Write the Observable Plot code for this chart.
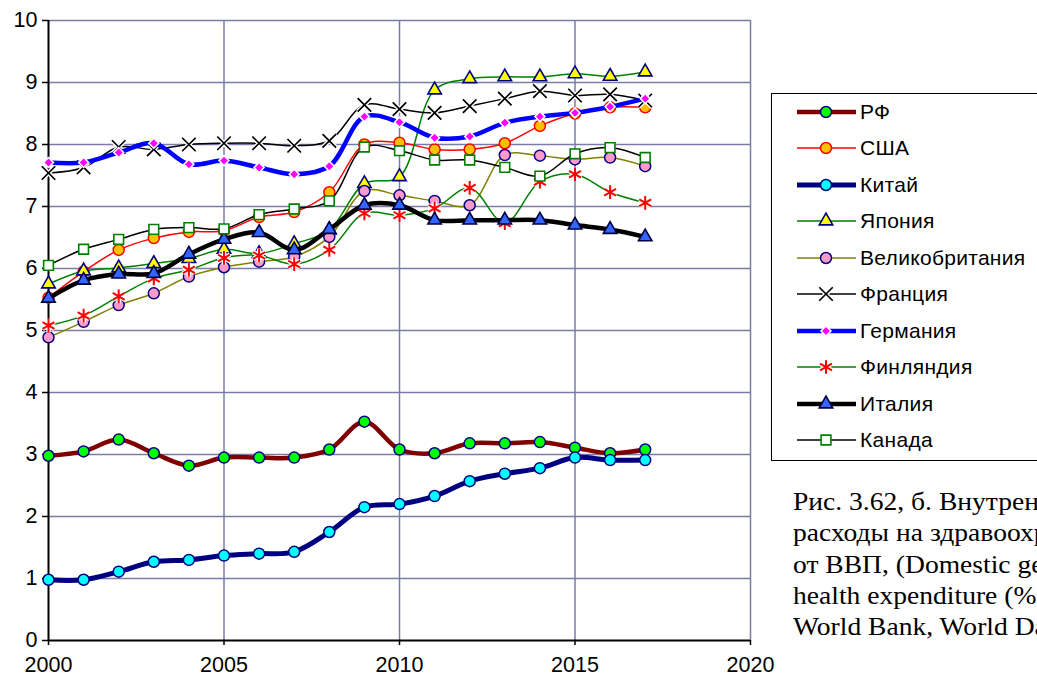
<!DOCTYPE html>
<html><head><meta charset="utf-8">
<script src="https://cdn.jsdelivr.net/npm/d3@7"></script>
<script src="https://cdn.jsdelivr.net/npm/@observablehq/plot@0.6"></script>
<style>
html,body{margin:0;padding:0;background:#fff;overflow:hidden;width:1037px;height:681px;}
#wrap{position:relative;width:1037px;height:681px;overflow:hidden;}
#chart{position:absolute;left:0;top:0;}
#legend{position:absolute;left:771px;top:93px;width:300px;height:368px;border:1px solid #000;background:#fff;box-sizing:border-box;font-family:"Liberation Sans",Arial,sans-serif;font-size:21px;letter-spacing:0.3px;color:#000;}
.item{position:absolute;left:24px;height:24px;display:flex;align-items:center;white-space:nowrap;}
.item svg{display:block;margin-right:2px;}
#caption{position:absolute;left:793px;top:486px;font-family:"Liberation Serif","Times New Roman",serif;font-size:26px;line-height:31.3px;white-space:nowrap;color:#000;transform:scaleX(1.06);transform-origin:0 0;}
</style></head>
<body><div id="wrap"><div id="chart"></div><div id="legend"></div>
<div id="caption">Рис. 3.62, б. Внутренние государственные<br>расходы на здравоохранение, %<br>от ВВП, (Domestic general government<br>health expenditure (% of GDP)),<br>World Bank, World Data Bank</div></div>
<script>
// ---- data ----
const years = [2000,2001,2002,2003,2004,2005,2006,2007,2008,2009,2010,2011,2012,2013,2014,2015,2016,2017];
const seriesNames = ["РФ","США","Китай","Япония","Великобритания","Франция","Германия","Финляндия","Италия","Канада"];
const rf      = [2.98,3.05,3.24,3.02,2.82,2.95,2.95,2.95,3.08,3.53,3.08,3.02,3.18,3.18,3.20,3.11,3.02,3.08];
const usa     = [5.53,5.95,6.30,6.49,6.59,6.61,6.83,6.91,7.23,8.00,8.03,7.92,7.92,8.02,8.30,8.50,8.60,8.60];
const china   = [0.98,0.98,1.11,1.27,1.30,1.37,1.40,1.43,1.75,2.15,2.20,2.33,2.57,2.69,2.78,2.95,2.91,2.91];
const japan   = [5.75,5.96,6.01,6.08,6.16,6.31,6.24,6.40,6.62,7.37,7.48,8.88,9.06,9.09,9.09,9.14,9.10,9.17];
const uk      = [4.89,5.14,5.41,5.60,5.87,6.02,6.11,6.19,6.51,7.25,7.18,7.09,7.02,7.83,7.82,7.76,7.79,7.65];
const france  = [7.54,7.63,7.96,7.92,8.00,8.02,8.02,7.98,8.06,8.64,8.57,8.51,8.62,8.74,8.86,8.79,8.81,8.71];
const germany = [7.71,7.71,7.87,8.02,7.68,7.74,7.63,7.52,7.65,8.45,8.36,8.11,8.13,8.35,8.45,8.51,8.61,8.74];
const finland = [5.08,5.24,5.55,5.84,5.98,6.17,6.21,6.07,6.30,6.89,6.86,6.97,7.30,6.73,7.40,7.52,7.23,7.06];
const italy   = [5.52,5.81,5.91,5.92,6.23,6.47,6.58,6.30,6.63,7.02,7.02,6.78,6.78,6.78,6.78,6.70,6.63,6.51];
const canada  = [6.05,6.31,6.47,6.63,6.66,6.64,6.87,6.96,7.09,7.96,7.90,7.75,7.75,7.63,7.49,7.85,7.95,7.79];
const xTicks = [2000,2005,2010,2015,2020];
const yTicks = [0,1,2,3,4,5,6,7,8,9,10];

// ---- styles ----
const values = [rf,usa,china,japan,uk,france,germany,finland,italy,canada];
const styles = [
  {line:"#800000", lw:4.5, sym:"circle",   r:5.5, fill:"#00ff00", stroke:"#000080", sw:1.5},
  {line:"#ff0000", lw:1.5, sym:"circle",   r:5.5, fill:"#ffc000", stroke:"#ff0000", sw:1.5},
  {line:"#000080", lw:5,   sym:"circle",   r:5.5, fill:"#00ffff", stroke:"#000080", sw:1.5},
  {line:"#008000", lw:1.5, sym:"triangle", r:5,   fill:"#ffff00", stroke:"#000080", sw:1.6},
  {line:"#808000", lw:1.5, sym:"circle",   r:5.5, fill:"#ff99cc", stroke:"#000080", sw:1.5},
  {line:"#000000", lw:1.5, sym:"times",    r:6.2, fill:"none",    stroke:"#000000", sw:1.7, halo:true},
  {line:"#0000ff", lw:4.5, sym:"diamond2", r:4.5, fill:"#ff00ff", stroke:"#ffffff", sw:1.5},
  {line:"#008000", lw:1.5, sym:"asterisk", r:6.5, fill:"none",    stroke:"#ff0000", sw:2,   halo:true},
  {line:"#000000", lw:4.5, sym:"triangle", r:5,   fill:"#3366ff", stroke:"#000040", sw:1.6},
  {line:"#000000", lw:1.5, sym:"square",   r:5.5, fill:"#ffffff", stroke:"#008000", sw:1.6}
];
const gridColor = "#7b7ba8";

const seriesMarks = [];
values.forEach((arr, k) => {
  const s = styles[k];
  const data = years.map((yr, i) => ({year: yr, value: arr[i]}));
  seriesMarks.push(Plot.line(data, {x:"year", y:"value", curve:"catmull-rom", stroke:s.line, strokeWidth:s.lw, strokeLinejoin:"round", strokeLinecap:"round"}));
  if (s.halo) seriesMarks.push(Plot.dot(data, {x:"year", y:"value", symbol:s.sym, r:s.r, stroke:"#ffffff", strokeWidth:4.5, fill:"none"}));
  seriesMarks.push(Plot.dot(data, {x:"year", y:"value", symbol:s.sym, r:s.r, fill:s.fill, stroke:s.stroke, strokeWidth:s.sw}));
});

const chart = Plot.plot({
  width: 790, height: 681,
  marginLeft: 48, marginRight: 40, marginTop: 20, marginBottom: 41,
  x: {domain:[2000,2020]},
  y: {domain:[0,10]},
  style: {fontFamily:"'Liberation Sans', Arial, sans-serif", fontSize:"21.5px", color:"#000", background:"transparent", overflow:"visible"},
  marks: [
    Plot.ruleY(yTicks.filter(d => d > 0), {stroke:gridColor, strokeWidth:1.5}),
    Plot.ruleX(xTicks.filter(d => d > 2000), {stroke:gridColor, strokeWidth:1.5}),
    Plot.ruleX([2000], {stroke:"#000", strokeWidth:2}),
    Plot.ruleY([0], {stroke:"#000", strokeWidth:2}),
    Plot.axisY({ticks:yTicks, tickSize:6, tickPadding:5, label:null, stroke:"#000", strokeWidth:1.5, fontSize:21.5}),
    Plot.axisX({ticks:xTicks, tickSize:5, tickPadding:11, label:null, tickFormat:d => String(d), stroke:"#000", strokeWidth:1.5, fontSize:21.5}),
    ...seriesMarks
  ]
});
document.getElementById("chart").appendChild(chart);

// ---- legend ----
const symMap = {circle:d3.symbolCircle, triangle:d3.symbolTriangle, square:d3.symbolSquare, times:d3.symbolTimes, asterisk:d3.symbolAsterisk, diamond2:d3.symbolDiamond2};
const legend = d3.select("#legend");
seriesNames.forEach((name, k) => {
  const s = styles[k];
  const item = legend.append("div").attr("class","item").style("top", (18.5 + 36.5*k - 12 - 1) + "px");
  const svg = item.append("svg").attr("width", 62).attr("height", 24);
  svg.append("line").attr("x1",1).attr("x2",60).attr("y1",12).attr("y2",12).attr("stroke",s.line).attr("stroke-width",s.lw);
  const size = Math.PI * s.r * s.r;
  const p = d3.symbol(symMap[s.sym], size)();
  if (s.halo) svg.append("path").attr("d",p).attr("transform","translate(30,12)").attr("fill","none").attr("stroke","#fff").attr("stroke-width",4.5);
  svg.append("path").attr("d",p).attr("transform","translate(30,12)").attr("fill",s.fill).attr("stroke",s.stroke).attr("stroke-width",s.sw);
  item.append("span").text(name);
});
</script>
</body></html>
